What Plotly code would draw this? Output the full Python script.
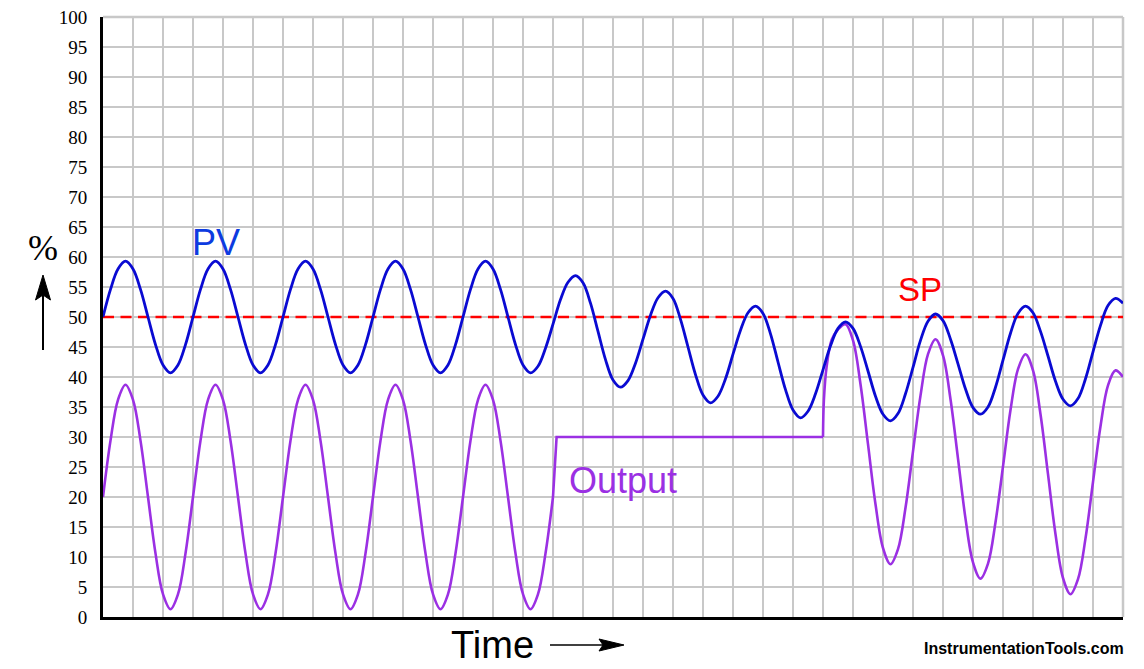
import plotly.graph_objects as go

# ---------------- data ----------------
# Process variable (%), sampled every 0.25 grid divisions from t=0 to t=34
pv_cycle = [59.3, 58.0, 54.6, 50.0, 45.4, 42.0, 40.7, 42.0, 45.4, 50.0, 54.6, 58.0]
pv_values = (
    [50.0, 54.6, 58.0]
    + pv_cycle + pv_cycle + pv_cycle + pv_cycle
    + [59.3, 58.0, 54.6, 50.0, 45.4, 42.0, 40.7,          # t = 12.75 .. 14.25
       41.8, 44.8, 48.8, 52.9, 55.8, 56.9,
       55.7, 52.3, 47.6, 42.9, 39.5, 38.3,
       39.4, 42.3, 46.3, 50.3, 53.2, 54.3,
       53.1, 49.6, 45.0, 40.4, 37.0, 35.7,
       36.8, 39.7, 43.8, 47.8, 50.7, 51.8,
       50.6, 47.2, 42.5, 37.9, 34.5, 33.2,
       34.3, 37.2, 41.2, 45.2, 48.1, 49.2,
       48.1, 45.1, 41.0, 36.8, 33.8, 32.7,
       33.9, 37.2, 41.6, 46.1, 49.3, 50.5,
       49.4, 46.3, 42.2, 38.0, 34.9, 33.8,
       35.0, 38.3, 42.8, 47.3, 50.6, 51.8,
       50.7, 47.6, 43.5, 39.3, 36.3, 35.2,
       36.4, 39.7, 44.2, 48.6, 51.9, 53.1,
       52.3]
)
pv_time = [i * 0.25 for i in range(len(pv_values))]

# Controller output (%): first oscillation, manual step, second oscillation
out_cycle = [38.7, 36.2, 29.4, 20.0, 10.6, 3.8, 1.3, 3.8, 10.6, 20.0, 29.4, 36.2]
output_osc1_values = (
    [20.0, 29.4, 36.2]
    + out_cycle + out_cycle + out_cycle + out_cycle
    + [38.7, 36.2, 29.4, 20.0, 10.6, 3.8, 1.3, 3.8, 10.6, 20.0]
)
output_osc1_time = [i * 0.25 for i in range(len(output_osc1_values))]

output_step_time = [15.0, 15.12, 24.0]
output_step_values = [20.0, 30.0, 30.0]

output_osc2_time = [24.0, 24.03, 24.12, 24.29, 24.5] + [24.75 + 0.25 * i for i in range(38)]
output_osc2_values = [30.0, 36.2, 41.7, 46.2, 47.9, 48.8,
                      46.1, 38.8, 28.8, 18.8, 11.5, 8.8,
                      11.3, 18.2, 27.6, 36.9, 43.8, 46.3,
                      43.6, 36.3, 26.4, 16.4, 9.1, 6.4,
                      8.9, 15.8, 25.1, 34.5, 41.3, 43.8,
                      41.1, 33.8, 23.8, 13.8, 6.5, 3.8,
                      6.3, 13.1, 22.5, 31.8, 38.6, 41.1,
                      40.0]

# Setpoint (%)
sp_time = [0, 34]
sp_values = [50, 50]

y_tick_values = [0, 5, 10, 15, 20, 25, 30, 35, 40, 45, 50,
                 55, 60, 65, 70, 75, 80, 85, 90, 95, 100]
y_tick_labels = [str(v) for v in y_tick_values]

# ---------------- styling ----------------
W, H = 1144, 669
PL, PR, PT, PB = 103, 1123, 17, 617

def px(x):
    return (x - PL) / (PR - PL)

def py(y):
    return (PB - y) / (PB - PT)

PV_COLOR = "#0a0ad2"
OUT_COLOR = "#9b30e3"
SP_COLOR = "#ff0000"
GRID = "#c8c8c8"
SMOOTH = 1.0

fig = go.Figure()

fig.add_trace(go.Scatter(x=sp_time, y=sp_values, mode="lines",
                         line=dict(color=SP_COLOR, width=2.5, dash="11px,6.5px"),
                         name="SP", hoverinfo="skip"))
fig.add_trace(go.Scatter(x=output_osc1_time, y=output_osc1_values, mode="lines",
                         line=dict(color=OUT_COLOR, width=2.6, shape="spline",
                                   smoothing=SMOOTH),
                         name="Output"))
fig.add_trace(go.Scatter(x=output_step_time, y=output_step_values, mode="lines",
                         line=dict(color=OUT_COLOR, width=2.6),
                         name="Output"))
fig.add_trace(go.Scatter(x=output_osc2_time, y=output_osc2_values, mode="lines",
                         line=dict(color=OUT_COLOR, width=2.6, shape="spline",
                                   smoothing=SMOOTH),
                         name="Output"))
fig.add_trace(go.Scatter(x=pv_time, y=pv_values, mode="lines",
                         line=dict(color=PV_COLOR, width=2.8, shape="spline",
                                   smoothing=SMOOTH),
                         name="PV"))

shapes = [
    # light top and right frame
    dict(type="line", xref="paper", yref="paper", x0=0, x1=1, y0=1, y1=1,
         line=dict(color=GRID, width=2.5), layer="below"),
    dict(type="line", xref="paper", yref="paper", x0=1, x1=1, y0=0, y1=1,
         line=dict(color=GRID, width=2.5), layer="below"),
    # up arrow beside %
    dict(type="line", xref="paper", yref="paper", x0=px(43), x1=px(43),
         y0=py(350), y1=py(292), line=dict(color="black", width=2)),
    dict(type="path", xref="paper", yref="paper",
         path=f"M {px(43)},{py(275)} L {px(50.5)},{py(300)} L {px(43)},{py(295)} "
              f"L {px(35.5)},{py(300)} Z",
         fillcolor="black", line=dict(color="black", width=1)),
    # right arrow beside Time
    dict(type="line", xref="paper", yref="paper", x0=px(550), x1=px(605),
         y0=py(645), y1=py(645), line=dict(color="black", width=1.6)),
    dict(type="path", xref="paper", yref="paper",
         path=f"M {px(624)},{py(645)} L {px(599)},{py(639)} L {px(603)},{py(645)} "
              f"L {px(599)},{py(651)} Z",
         fillcolor="black", line=dict(color="black", width=1)),
]

annotations = [
    dict(text="PV", x=3.77, y=62.4, xref="x", yref="y", showarrow=False,
         xanchor="center", yanchor="middle",
         font=dict(family="Liberation Sans, Arial", size=36, color="#0d3be0")),
    dict(text="SP", x=27.23, y=54.6, xref="x", yref="y", showarrow=False,
         xanchor="center", yanchor="middle",
         font=dict(family="Liberation Sans, Arial", size=33, color=SP_COLOR)),
    dict(text="Output", x=17.33, y=22.8, xref="x", yref="y", showarrow=False,
         xanchor="center", yanchor="middle",
         font=dict(family="Liberation Sans, Arial", size=36, color=OUT_COLOR)),
    dict(text="%", x=px(43), y=py(248), xref="paper", yref="paper", showarrow=False,
         xanchor="center", yanchor="middle",
         font=dict(family="Liberation Serif, Times New Roman", size=36, color="black")),
    dict(text="Time", x=px(492), y=py(645), xref="paper", yref="paper", showarrow=False,
         xanchor="center", yanchor="middle",
         font=dict(family="Liberation Sans, Arial", size=38, color="black")),
    dict(text="<b>InstrumentationTools.com</b>", x=px(1126), y=py(649),
         xref="paper", yref="paper", xanchor="right", yanchor="middle",
         showarrow=False,
         font=dict(family="Liberation Sans, Arial", size=16, color="black")),
]

fig.update_layout(
    width=W, height=H,
    margin=dict(l=PL, r=W - PR, t=PT, b=H - PB, pad=0, autoexpand=False),
    paper_bgcolor="white", plot_bgcolor="white",
    showlegend=False,
    shapes=shapes,
    annotations=annotations,
    xaxis=dict(range=[0, 34], dtick=1, tick0=0, showgrid=True, gridcolor=GRID,
               gridwidth=2, showticklabels=False, ticks="", zeroline=False,
               automargin=False,
               showline=True, linecolor="black", linewidth=3, fixedrange=True),
    yaxis=dict(range=[0, 100], tickvals=y_tick_values, ticktext=y_tick_labels,
               showgrid=True, gridcolor=GRID, gridwidth=2, ticks="",
               ticklabelstandoff=9, zeroline=False, automargin=False,
               showline=True, linecolor="black", linewidth=3, fixedrange=True,
               tickfont=dict(family="Liberation Serif, Times New Roman", size=19,
                             color="black")),
)

fig.write_html("out.html", config={"displayModeBar": False},
               post_script="document.body.style.margin='0';")
